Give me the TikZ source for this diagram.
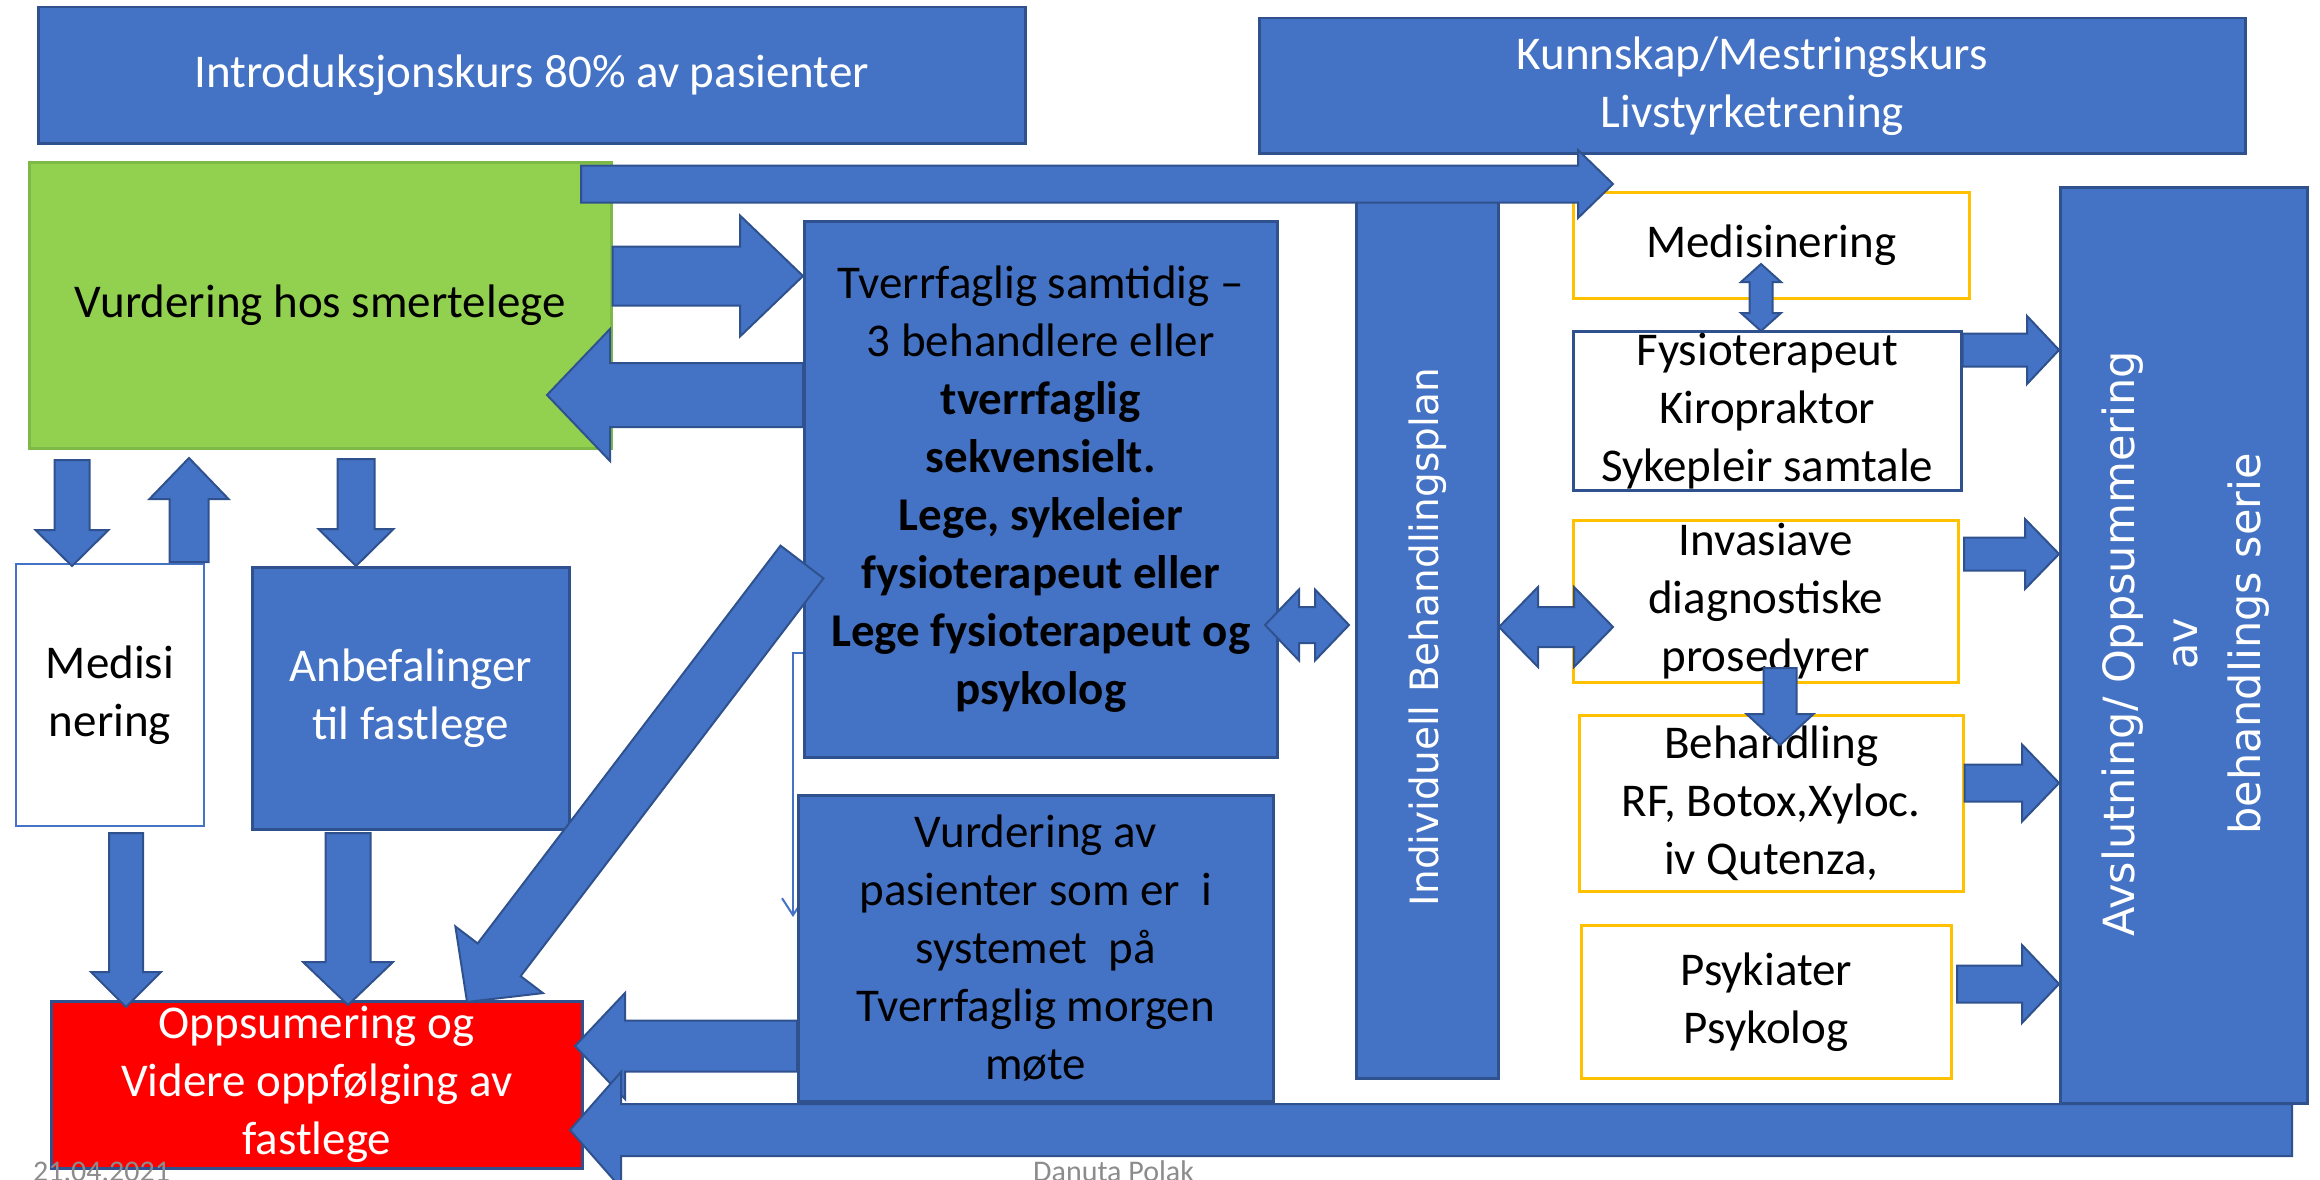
\documentclass[tikz,border=0pt]{standalone}
\usepackage{fontspec}
\setmainfont{Carlito}
\newfontfamily\vertfont{DejaVu Sans}
\usetikzlibrary{calc,arrows.meta}
\definecolor{bfill}{HTML}{4472C4}
\definecolor{bdr}{HTML}{2F528F}
\definecolor{gfill}{HTML}{92D050}
\definecolor{gbdr}{HTML}{7DB946}
\definecolor{ybdr}{HTML}{FFC000}
\definecolor{greytxt}{HTML}{8C8C8C}
\newcommand\mainfs{\fontsize{47}{58}\selectfont}
\newcommand\getdir[2]{%
  \path let \p1=#1, \p2=#2 in \pgfextra{%
    \pgfmathparse{atan2((\y2)-(\y1),(\x2)-(\x1))}\xdef\baang{\pgfmathresult}%
    \pgfmathparse{veclen((\x2)-(\x1),(\y2)-(\y1))}\xdef\balen{\pgfmathresult}};}
\newcommand\blockarrow[5]{%
  \getdir{#1}{#2}%
  \begin{scope}[shift={#1}, rotate=\baang]
    \draw[arrowshape] (0,-#3) -- ({\balen-#5},-#3) -- ({\balen-#5},-#4) -- (\balen,0)
      -- ({\balen-#5},#4) -- ({\balen-#5},#3) -- (0,#3) -- cycle;
  \end{scope}}
\newcommand\dblarrow[5]{%
  \getdir{#1}{#2}%
  \begin{scope}[shift={#1}, rotate=\baang]
    \draw[arrowshape] (0,0) -- (#5,-#4) -- (#5,-#3) -- ({\balen-#5},-#3) -- ({\balen-#5},-#4)
      -- (\balen,0) -- ({\balen-#5},#4) -- ({\balen-#5},#3) -- (#5,#3) -- (#5,#4) -- cycle;
  \end{scope}}
\begin{document}
\begin{tikzpicture}[x=1pt,y=-1pt,
  bluebox/.style={draw=bdr, fill=bfill, line width=2.5pt, inner sep=0pt, align=center, font=\mainfs, anchor=north west},
  ybox/.style={draw=ybdr, fill=white, line width=2.5pt, inner sep=0pt, align=center, font=\mainfs, anchor=north west},
  arrowshape/.style={draw=bdr, fill=bfill, line width=2pt, line join=miter},
  thinconn/.style={draw=bfill, line width=2pt, -{Straight Barb[length=17pt,width=22pt]}},
  foot/.style={anchor=base west, inner sep=0pt, text=greytxt, font=\fontsize{30}{36}\selectfont}]
\useasboundingbox (0,0) rectangle (2320,1180);
\clip (0,0) rectangle (2320,1180);
\fill[white] (0,0) rectangle (2320,1180);

\node[bluebox, text=white, minimum width=987pt, minimum height=136pt] (intro) at (37,6) {Introduksjonskurs 80\% av pasienter};
\node[bluebox, text=white, minimum width=986pt, minimum height=135pt] (kunn) at (1258,17) {Kunnskap/Mestringskurs\\Livstyrketrening};
\node[bluebox, draw=gbdr, fill=gfill, minimum width=582pt, minimum height=286pt] (green) at (28,161) {Vurdering hos smertelege};
\node[bluebox, minimum width=473pt, minimum height=536pt] (tv) at (803,220) {Tverrfaglig samtidig –\\3 behandlere eller\\\textbf{tverrfaglig}\\\textbf{sekvensielt.}\\\textbf{Lege, sykeleier}\\\textbf{fysioterapeut eller}\\\textbf{Lege fysioterapeut og}\\\textbf{psykolog}};
\coordinate (thinend) at (793,917);
\draw[thinconn] (tv.west |- 0,653) -- (793,653) -- (thinend);
\node[bluebox, minimum width=475pt, minimum height=306pt] (vurd) at (797,794) {Vurdering av\\pasienter som er\ \ i\\systemet\ \ på\\Tverrfaglig morgen\\møte};
\node[bluebox, minimum width=142pt, minimum height=882pt] (indiv) at (1355,195) {};
\node[rotate=90, text=white, inner sep=0pt, font=\vertfont\fontsize{39}{47}\selectfont] (indivtxt) at (indiv.center) {Individuell Behandlingsplan};
\node[ybox, minimum width=396pt, minimum height=106pt] (med) at (1572,191) {Medisinering};
\node[ybox, draw=bdr, minimum width=388pt, minimum height=159pt] (fys) at (1572,330) {Fysioterapeut\\Kiropraktor\\Sykepleir samtale};
\node[ybox, minimum width=385pt, minimum height=162pt] (inv) at (1572,519) {Invasiave\\diagnostiske\\prosedyrer};
\node[ybox, minimum width=384pt, minimum height=176pt] (beh) at (1578,714) {Behandling\\RF, Botox,Xyloc.\\iv Qutenza,};
\node[ybox, minimum width=370pt, minimum height=153pt] (psy) at (1580,924) {Psykiater\\Psykolog};
\node[bluebox, minimum width=247pt, minimum height=916pt] (avsl) at (2059,186) {};
\node[rotate=90, text=white, align=center, inner sep=0pt, font=\vertfont\fontsize{43}{63}\selectfont] (avsltxt) at (2186,644) {Avslutning/ Oppsummering\\av\\behandlings serie};
\node[ybox, draw=bfill, line width=2pt, minimum width=188pt, minimum height=262pt] (medisi) at (15,563) {Medisi\\nering};
\node[bluebox, text=white, minimum width=317pt, minimum height=262pt] (anbef) at (251,566) {Anbefalinger\\til fastlege};
\node[bluebox, fill=red, text=white, minimum width=531pt, minimum height=167pt] (opp) at (50,1000) {Oppsumering og\\Videre oppfølging av\\fastlege};

% block arrows
\blockarrow{(581,184)}{(1613,184)}{18.5}{34}{35}
\blockarrow{(green.east |- 0,276)}{(tv.west |- 0,276)}{29.5}{60.5}{63}
\blockarrow{(tv.west |- 0,395)}{(547,395)}{32}{66}{63}
\blockarrow{(72,460)}{(72,566)}{17.5}{36.5}{36}
\blockarrow{(189,562)}{(189,458)}{19.5}{39.5}{41}
\blockarrow{(356,459)}{(356,566)}{18.5}{37.5}{37}
\blockarrow{(126,833)}{(126,1007)}{17}{35}{35}
\blockarrow{(348,833)}{(348,1005)}{22.5}{45}{43}
\blockarrow{(802,562)}{(467,1002)}{27}{55}{53}
\blockarrow{(vurd.west |- 0,1046)}{(575,1046)}{25.5}{53}{50}
\blockarrow{(2292,1130)}{(570,1130)}{26}{58}{51}
\dblarrow{(1265,625)}{(1349,625)}{18}{35.5}{34}
\dblarrow{(1499,627)}{(1613,627)}{20}{40}{39}
\dblarrow{(1761,264)}{(1761,331)}{11.5}{20}{18}
\blockarrow{(1780,668)}{(1780,745)}{16.5}{33.5}{31}
\blockarrow{(fys.east |- 0,350)}{(avsl.west |- 0,350)}{16.5}{34}{32}
\blockarrow{(1964,554)}{(avsl.west |- 0,554)}{16.5}{35}{34}
\blockarrow{(beh.east |- 0,783)}{(avsl.west |- 0,783)}{18.5}{38.5}{37}
\blockarrow{(1957,984)}{(avsl.west |- 0,984)}{18.5}{39}{37}

\node[foot] (date) at (33,1181) {21.04.2021};
\node[foot] (author) at (1033,1181) {Danuta Polak};
\end{tikzpicture}
\end{document}
